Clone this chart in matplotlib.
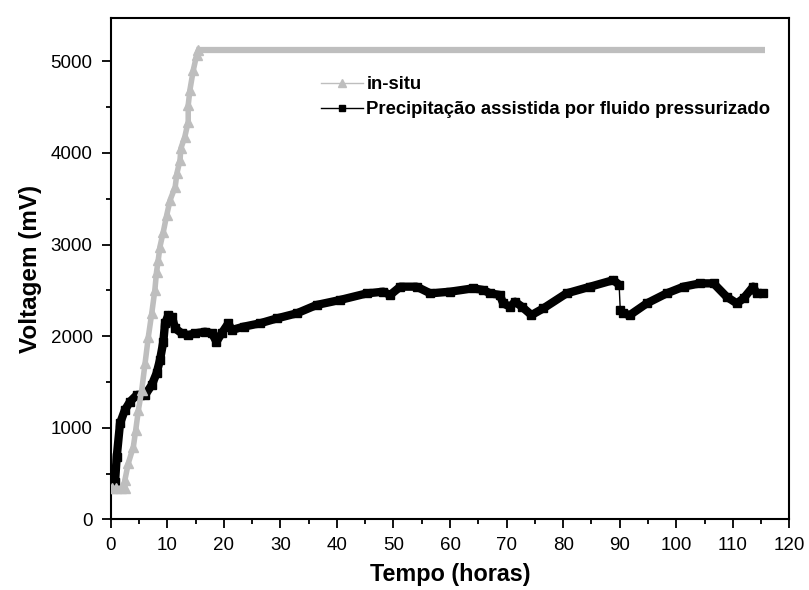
import numpy as np
import matplotlib
matplotlib.use("Agg")
import matplotlib.pyplot as plt
from matplotlib.lines import Line2D
from matplotlib.ticker import MultipleLocator

plt.rcParams['font.family'] = ['Liberation Sans', 'DejaVu Sans']

# in-situ (grey triangles)
insitu_t = [0.3, 1.0, 1.8, 2.5, 2.5, 3.1, 4.0, 4.42, 4.89, 5.48, 6.07, 6.65, 7.25, 7.8,
            8.1, 8.4, 8.7, 9.3, 9.9, 10.5, 11.4, 11.7, 12.25, 12.4, 13.1, 13.7, 13.7,
            14.0, 14.6, 15.2, 15.5, 20, 30, 40, 50, 60, 70, 80, 90, 100, 110, 115.7]
insitu_v = [338, 338, 338, 338, 429, 611, 793, 975, 1193, 1412, 1703, 1994, 2249, 2503,
            2703, 2831, 2976, 3140, 3322, 3486, 3631, 3777, 3923, 4050, 4177, 4341, 4523,
            4687, 4905, 5070, 5123, 5123, 5123, 5123, 5123, 5123, 5123, 5123, 5123, 5123,
            5123, 5123]
plateau = 30  # index where the in-situ curve levels off

# precipitacao assistida (black squares)
prec_t = [0.46, 0.76, 1.06, 1.64, 2.5, 3.4, 4.6, 5.2, 6.07, 7.25, 8.1, 8.7, 9.3, 9.6,
          10.2, 10.8, 11.4, 12.55, 13.7, 14.9, 16.7, 17.9, 18.7, 19.6, 20.8, 21.4, 23.5,
          26.4, 29.4, 32.9, 36.4, 40.5, 45.3, 48.2, 49.4, 51.2, 54.1, 56.5, 60.0, 64.1,
          65.9, 67.1, 68.8, 69.4, 70.6, 71.5, 72.7, 74.4, 76.5, 80.6, 84.8, 88.9, 89.9,
          90.1, 90.6, 91.8, 94.8, 98.3, 101.3, 104.2, 106.6, 108.9, 110.7, 111.9, 113.6,
          114.2, 115.4]
prec_v = [538, 410, 683, 1048, 1193, 1284, 1357, 1357, 1357, 1466, 1594, 1739, 1939, 2140,
          2230, 2212, 2085, 2030, 2012, 2030, 2048, 2030, 1939, 2030, 2140, 2067, 2103,
          2140, 2194, 2249, 2340, 2394, 2467, 2485, 2449, 2540, 2540, 2467, 2485, 2522,
          2503, 2467, 2449, 2358, 2321, 2376, 2321, 2230, 2303, 2467, 2540, 2612, 2560,
          2285, 2249, 2230, 2358, 2467, 2540, 2576, 2576, 2430, 2358, 2412, 2540,
          2467, 2467]
jump = 53  # index where the curve drops at ~90 h

grey = '#bebebe'

fig = plt.figure(figsize=(8.09, 5.90), dpi=100)
ax = fig.add_axes([0.1369, 0.1198, 0.8388, 0.8492])

# black curve: thin line through all, thick band on both pieces
ax.plot(prec_t, prec_v, color='black', lw=1, zorder=2)
for sl in (slice(0, jump), slice(jump, None)):
    ax.plot(prec_t[sl], prec_v[sl], color='black', lw=6, marker='s', ms=6,
            solid_joinstyle='round', solid_capstyle='round', zorder=2)

# grey curve: triangles on the rise, thick band on the plateau
ax.plot(insitu_t[:plateau + 1], insitu_v[:plateau + 1], color=grey, lw=4, marker='^',
        ms=7.5, mec=grey, solid_joinstyle='round', zorder=3)
ax.plot(insitu_t[plateau:], insitu_v[plateau:], color=grey, lw=4.5,
        solid_capstyle='butt', zorder=3)

ax.set_xlim(0, 120)
ax.set_ylim(0, 5470)
ax.xaxis.set_major_locator(MultipleLocator(10))
ax.xaxis.set_minor_locator(MultipleLocator(5))
ax.yaxis.set_major_locator(MultipleLocator(1000))
ax.yaxis.set_minor_locator(MultipleLocator(500))
ax.tick_params(which='major', direction='out', length=6.5, width=1.3, labelsize=13.5,
               top=False, right=False)
ax.tick_params(which='minor', direction='out', length=3.5, width=1.3, top=False, right=False)
ax.tick_params(axis='x', pad=6)
ax.tick_params(axis='y', pad=6.5)
for s in ax.spines.values():
    s.set_linewidth(1.5)

ax.set_xlabel('Tempo (horas)', fontsize=16.8, fontweight='bold', labelpad=7)
ax.set_ylabel('Voltagem (mV)', fontsize=17.5, fontweight='bold', labelpad=6)

handles = [Line2D([], [], color=grey, lw=1, marker='^', ms=6, mec=grey),
           Line2D([], [], color='black', lw=1, marker='s', ms=5)]
ax.legend(handles, ['in-situ', 'Precipitação assistida por fluido pressurizado'],
          loc='upper left', bbox_to_anchor=(321 / 809, 1 - 76 / 590),
          bbox_transform=fig.transFigure, frameon=False, handlelength=2.3,
          handletextpad=0.15, labelspacing=0.45, borderpad=0, borderaxespad=0,
          prop={'size': 13.3, 'weight': 'bold'})

fig.savefig('out.png', dpi=100)
